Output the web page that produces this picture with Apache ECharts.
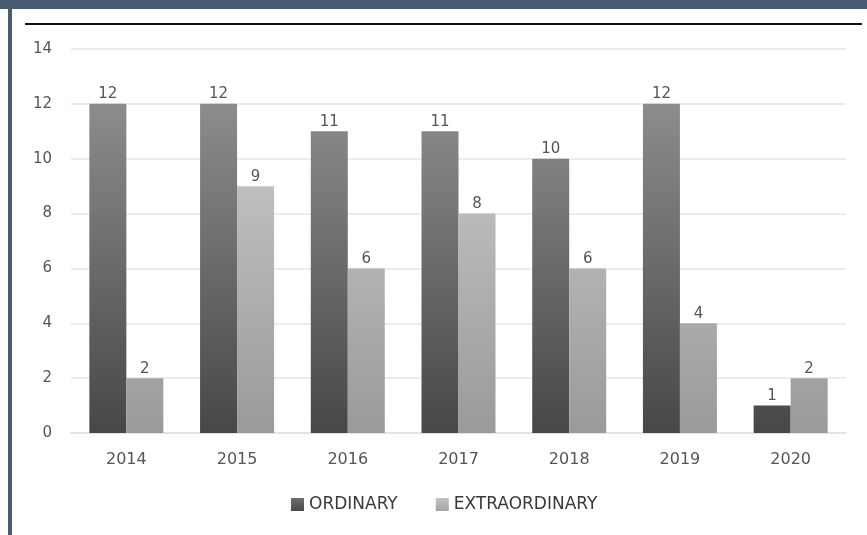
<!DOCTYPE html>
<html>
<head>
<meta charset="utf-8">
<script src="https://cdn.jsdelivr.net/npm/echarts@6/dist/echarts.min.js"></script>
<style>
  html, body { margin: 0; padding: 0; background: #fff; }
  .topbar { position: absolute; left: 0; top: 0; width: 867px; height: 9px; background: #475b71; }
  .leftbar { position: absolute; left: 8px; top: 9px; width: 4px; height: 526px; background: #475b71; }
  .rule { position: absolute; left: 25px; top: 23px; width: 837px; height: 2px; background: #111; }
  #chart { position: absolute; left: 0; top: 0; width: 867px; height: 535px; }
</style>
</head>
<body>
<div class="topbar"></div>
<div class="leftbar"></div>
<div class="rule"></div>
<div id="chart"></div>
<script>
// data
const years = ["2014", "2015", "2016", "2017", "2018", "2019", "2020"]
const ordinary = [12, 12, 11, 11, 10, 12, 1]
const extraordinary = [2, 9, 6, 8, 6, 4, 2]
const yTicks = [0, 2, 4, 6, 8, 10, 12, 14]

const chart = echarts.init(document.getElementById("chart"))

const labelStyle = {
  show: true,
  position: "top",
  color: "#555",
  fontSize: 15,
  fontFamily: "DejaVu Sans",
  distance: 2,
}

const option = {
  animation: false,
  legend: {
    bottom: 17,
    left: 286,
    itemWidth: 13,
    itemHeight: 13,
    itemGap: 38,
    icon: "rect",
    textStyle: { color: "#3a3a3a", fontSize: 17, fontFamily: "DejaVu Sans" },
    data: [
      {
        name: "ORDINARY",
        itemStyle: {
          color: new echarts.graphic.LinearGradient(0, 0, 0, 1, [
            { offset: 0, color: "#6e6e6e" },
            { offset: 1, color: "#4a4a4a" },
          ]),
        },
      },
      {
        name: "EXTRAORDINARY",
        itemStyle: {
          color: new echarts.graphic.LinearGradient(0, 0, 0, 1, [
            { offset: 0, color: "#c4c4c4" },
            { offset: 1, color: "#a4a4a4" },
          ]),
        },
      },
    ],
  },
  grid: {
    left: 71,
    right: 21,
    top: 49,
    bottom: 102,
    containLabel: false,
  },
  xAxis: {
    type: "category",
    data: years,
    axisLine: { show: true, lineStyle: { color: "#e3e3e3", width: 2 } },
    axisTick: { show: false },
    axisLabel: { color: "#555", fontSize: 16, fontFamily: "DejaVu Sans", margin: 19 },
  },
  yAxis: {
    type: "value",
    min: yTicks[0],
    max: yTicks[yTicks.length - 1],
    interval: 2,
    axisLine: { show: false },
    axisTick: { show: false },
    axisLabel: { color: "#555", fontSize: 15, fontFamily: "DejaVu Sans", margin: 19 },
    splitLine: { lineStyle: { color: "#ececec", width: 2 } },
  },
  series: [
    {
      name: "ORDINARY",
      type: "bar",
      data: ordinary,
      barWidth: 37,
      barGap: "0%",
      itemStyle: {
        color: new echarts.graphic.LinearGradient(0, 104, 0, 433, [
          { offset: 0, color: "#8c8c8c" },
          { offset: 1, color: "#474747" },
        ], true),
      },
      label: labelStyle,
    },
    {
      name: "EXTRAORDINARY",
      type: "bar",
      data: extraordinary,
      barWidth: 37,
      itemStyle: {
        color: new echarts.graphic.LinearGradient(0, 104, 0, 433, [
          { offset: 0, color: "#cacaca" },
          { offset: 1, color: "#9a9a9a" },
        ], true),
      },
      label: labelStyle,
    },
  ],
}

chart.setOption(option)
</script>
</body>
</html>
